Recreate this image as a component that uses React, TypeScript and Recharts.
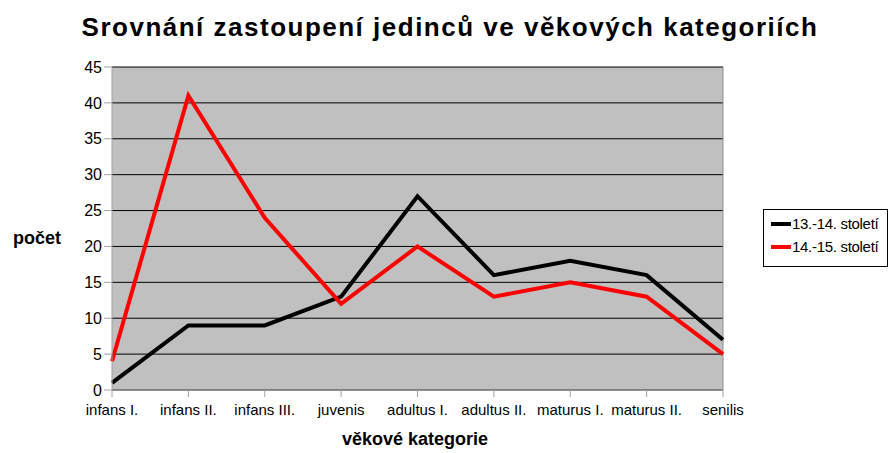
import { LineChart, Line, XAxis, YAxis, CartesianGrid, ReferenceLine } from 'recharts'

const categories = [
    'infans I.',
    'infans II.',
    'infans III.',
    'juvenis',
    'adultus I.',
    'adultus II.',
    'maturus I.',
    'maturus II.',
    'senilis',
]
const century13to14 = [1, 9, 9, 13, 27, 16, 18, 16, 7]
const century14to15 = [4, 41, 24, 12, 20, 13, 15, 13, 5]
const yTicks = [0, 5, 10, 15, 20, 25, 30, 35, 40, 45]

const SERIES = [
    { key: 'a', name: '13.-14. století', color: '#000000' },
    { key: 'b', name: '14.-15. století', color: '#ff0000' },
]

const data = categories.map((c, i) => ({
    name: c,
    a: century13to14[i],
    b: century14to15[i],
}))

const FONT = '"Liberation Sans", Arial, sans-serif'

function LegendBox() {
    return (
        <div
            style={{
                position: 'absolute',
                left: 763,
                top: 209,
                border: '1px solid #000',
                background: '#fff',
                width: 125,
                height: 58,
                boxSizing: 'border-box',
                padding: '2px 0 0 7px',
                fontSize: 15,
                color: '#000',
            }}
        >
            {SERIES.map((s) => (
                <div key={s.key} style={{ display: 'flex', alignItems: 'center', height: 23, letterSpacing: -0.3 }}>
                    <div style={{ width: 20, height: 4, background: s.color, marginRight: 1 }} />
                    <span>{s.name}</span>
                </div>
            ))}
        </div>
    )
}

export default function App() {
    return (
        <div style={{ position: 'absolute', left: 0, top: 0, width: 890, height: 453, background: '#fff', fontFamily: FONT }}>
            {/* Title */}
            <div
                style={{
                    position: 'absolute',
                    left: 0,
                    width: 900,
                    top: 12,
                    textAlign: 'center',
                    fontSize: 26,
                    fontWeight: 'bold',
                    letterSpacing: 1.5,
                    color: '#000',
                }}
            >
                Srovnání zastoupení jedinců ve věkových kategoriích
            </div>

            <LineChart
                width={890}
                height={453}
                data={data}
                margin={{ top: 67, right: 167, bottom: 33, left: 52 }}
            >
                <CartesianGrid fill="#c0c0c0" stroke="#000" vertical={false} horizontalValues={yTicks} />
                <XAxis
                    dataKey="name"
                    height={30}
                    tickSize={7}
                    tickLine={{ stroke: '#a0a0a0' }}
                    axisLine={{ stroke: '#a0a0a0' }}
                    tick={{ fill: '#000', fontSize: 15, fontFamily: FONT, dy: 5 }}
                    interval={0}
                />
                <YAxis
                    width={60}
                    domain={[0, 45]}
                    ticks={yTicks}
                    tickSize={8}
                    tickLine={{ stroke: '#a0a0a0' }}
                    axisLine={{ stroke: '#a0a0a0' }}
                    tick={{ fill: '#000', fontSize: 16, fontFamily: FONT }}
                    interval={0}
                />
                <ReferenceLine x="senilis" stroke="#909090" />
                {SERIES.map((s) => (
                    <Line
                        key={s.key}
                        type="linear"
                        dataKey={s.key}
                        name={s.name}
                        stroke={s.color}
                        strokeWidth={4}
                        dot={false}
                        isAnimationActive={false}
                    />
                ))}
            </LineChart>

            <LegendBox />

            {/* Axis titles */}
            <div style={{ position: 'absolute', left: 13, top: 228, fontSize: 18, fontWeight: 'bold', color: '#000' }}>
                počet
            </div>
            <div
                style={{
                    position: 'absolute',
                    left: 260,
                    width: 310,
                    top: 429,
                    textAlign: 'center',
                    fontSize: 18,
                    fontWeight: 'bold',
                    color: '#000',
                }}
            >
                věkové kategorie
            </div>
        </div>
    )
}
